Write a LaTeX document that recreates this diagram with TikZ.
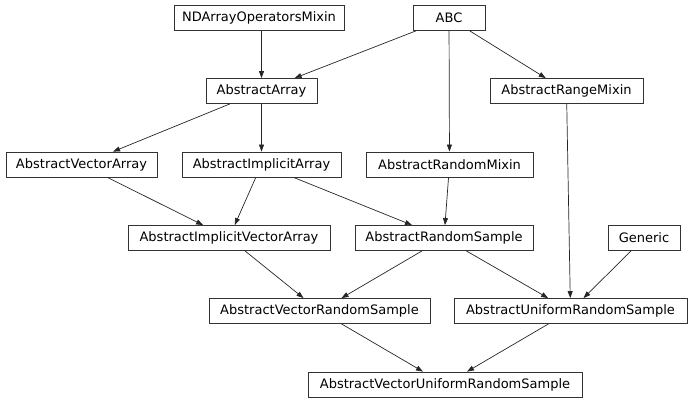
\documentclass[tikz,border=0pt]{standalone}
\usepackage{fontspec}
\setmainfont{DejaVu Sans}
\usetikzlibrary{arrows.meta}
\begin{document}
\begin{tikzpicture}[x=1pt,y=-1pt,
  cls/.style={draw=black!80, line width=0.8pt, minimum height=25pt, inner sep=0pt,
    font=\fontsize{13}{15}\selectfont, text=black},
  edge/.style={draw=black!85, line width=0.7pt, -{Triangle[length=7pt,width=5pt]}}]
\useasboundingbox (0,0) rectangle (692,403);
\node[cls, minimum width=170pt] (nd) at (259,18) {NDArrayOperatorsMixin};
\node[cls, minimum width=72pt] (abc) at (449,18) {ABC};
\node[cls, minimum width=111pt] (aa) at (261.5,91) {AbstractArray};
\node[cls, minimum width=153pt] (arm) at (566.5,91) {AbstractRangeMixin};
\node[cls, minimum width=151pt] (ava) at (81.5,164.5) {AbstractVectorArray};
\node[cls, minimum width=159pt] (aia) at (261.5,164.5) {AbstractImplicitArray};
\node[cls, minimum width=167pt] (arnd) at (449.5,164.5) {AbstractRandomMixin};
\node[cls, minimum width=202pt] (aiva) at (229,238) {AbstractImplicitVectorArray};
\node[cls, minimum width=178pt] (ars) at (444,238) {AbstractRandomSample};
\node[cls, minimum width=72pt] (gen) at (644,238) {Generic};
\node[cls, minimum width=221pt] (avrs) at (319.5,311) {AbstractVectorRandomSample};
\node[cls, minimum width=233pt] (aurs) at (570.5,311) {AbstractUniformRandomSample};
\node[cls, minimum width=274pt] (avurs) at (445,384.5) {AbstractVectorUniformRandomSample};

\draw[edge] (aa |- nd.south) -- (aa);
\draw[edge] (abc) -- (aa);
\draw[edge] (abc) -- (arnd);
\draw[edge] (abc) -- (arm);
\draw[edge] (aa) -- (ava);
\draw[edge] (aa) -- (aia);
\draw[edge] (aia) -- (aiva);
\draw[edge] (ava) -- (aiva);
\draw[edge] (aia) -- (ars);
\draw[edge] (arnd) -- (ars);
\draw[edge] (arm) -- (aurs);
\draw[edge] (ars) -- (avrs);
\draw[edge] (ars) -- (aurs);
\draw[edge] (gen) -- (aurs);
\draw[edge] (aiva) -- (avrs);
\draw[edge] (avrs) -- (avurs);
\draw[edge] (aurs) -- (avurs);
\end{tikzpicture}
\end{document}
